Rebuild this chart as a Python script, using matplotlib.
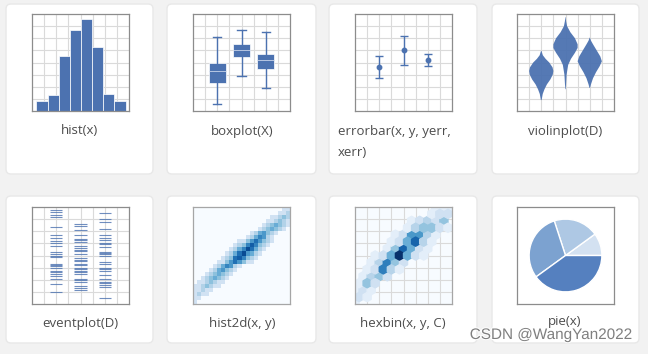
import numpy as np
import matplotlib
matplotlib.use("Agg")
import matplotlib.pyplot as plt
from matplotlib.patches import FancyBboxPatch
from matplotlib.colors import PowerNorm
import matplotlib.patheffects as pe

W, H = 648, 354
BLUE = "#4C72B0"

# hist(x)
hist_edges = [0.36, 1.28, 2.20, 3.12, 4.04, 4.96, 5.88, 6.80, 7.72]
hist_counts = [6, 9, 32, 47, 53, 37, 10, 6]

# boxplot(X)
box_pos = [2, 4, 6]
box_whislo = [0.55, 2.88, 1.92]
box_q1 = [2.31, 4.45, 3.49]
box_med = [3.27, 5.05, 4.18]
box_q3 = [3.96, 5.55, 4.73]
box_whishi = [6.10, 6.68, 6.48]

# errorbar(x, y, yerr, xerr)
err_x = [2, 4, 6]
err_y = [3.6, 5.0, 4.2]
err_yerr = [0.9, 1.2, 0.5]

# violinplot(D): density profiles
violin_pos = [2, 4, 6]
violin_y = [
    [0.9, 1.4, 1.8, 2.2, 2.6, 3.0, 3.3, 3.6, 4.0, 4.3, 4.6, 4.95],
    [1.8, 3.0, 3.8, 4.3, 4.8, 5.2, 5.5, 6.0, 6.5, 7.0, 7.4, 7.75],
    [1.9, 2.2, 2.7, 3.2, 3.7, 4.1, 4.5, 5.0, 5.5, 5.8, 6.05],
]
violin_w = [
    [0.03, 0.12, 0.27, 0.47, 0.75, 0.95, 1.0, 0.93, 0.66, 0.36, 0.13, 0.02],
    [0.02, 0.09, 0.22, 0.45, 0.78, 1.0, 1.0, 0.78, 0.4, 0.13, 0.05, 0.01],
    [0.02, 0.1, 0.27, 0.52, 0.82, 1.0, 0.87, 0.57, 0.27, 0.1, 0.01],
]

# eventplot(D)
event_pos = [2, 4, 6]
events = [
    [7.78, 7.59, 7.37, 7.18, 6.33, 5.67, 5.48, 5.23, 4.99, 4.79, 4.30, 4.16,
     4.00, 3.84, 3.34, 3.23, 3.12, 3.01, 2.74, 2.63, 2.49, 2.30, 2.08, 1.64, 0.99],
    [6.58, 6.41, 6.08, 5.67, 5.37, 5.26, 5.10, 4.77, 4.63, 4.49, 4.36, 4.16,
     3.78, 3.67, 3.53, 3.34, 3.18, 3.01, 2.85, 2.74, 2.60, 2.44, 2.08, 1.97,
     1.84, 1.48, 1.32, 1.15],
    [7.53, 7.04, 6.77, 6.19, 5.67, 5.48, 5.26, 5.04, 4.93, 4.71, 4.30, 4.22,
     4.11, 3.95, 3.48, 3.34, 3.01, 2.85, 2.71, 2.38, 2.03, 1.84, 1.70, 1.59,
     1.42, 0.52],
]

# hist2d(x, y): 24x24 counts, top row first
hist2d_rows = [
    "000000000000000000000011",
    "000000000000000000000112",
    "000000000000000000011232",
    "000000000000000000112321",
    "000000000000000001234321",
    "000000000000000012343210",
    "000000000000001245321000",
    "000000000000012465210000",
    "000000000001135753210000",
    "000000000012368632100000",
    "000000000124697421000000",
    "000000001247954210000000",
    "000000012378632100000000",
    "000000113575311000000000",
    "000001246521000000000000",
    "000012453210000000000000",
    "000123432100000000000000",
    "001234321000000000000000",
    "011232110000000000000000",
    "112321100000000000000000",
    "112110000000000000000000",
    "121100000000000000000000",
    "110000000000000000000000",
    "100000000000000000000000",
]

# hexbin(x, y, C): hexagon row / column and value
hex_row = [0, 1, 1, 2, 2, 2, 3, 3, 3,
           4, 4, 4, 4, 5, 5, 5, 5, 5,
           6, 6, 6, 6, 6, 7, 7, 7, 7, 7, 7, 7,
           8, 8, 8, 8, 8, 8, 9, 9, 9, 9, 9, 9,
           10, 10, 10, 10, 10, 10, 11, 11, 11, 11, 11, 11,
           12, 12, 12, 12, 12, 13, 13, 13, 14, 14, 14]
hex_col = [0, 0, 1, 0, 1, 2, 0, 1, 2,
           1, 2, 3, 4, 1, 2, 3, 4, 5,
           2, 3, 4, 5, 6, 2, 3, 4, 5, 6, 7, 8,
           4, 5, 6, 7, 8, 9, 4, 5, 6, 7, 8, 9,
           5, 6, 7, 8, 9, 10, 6, 7, 8, 9, 10, 11,
           7, 8, 9, 10, 11, 9, 10, 11, 10, 11, 12]
hex_val = [1, 2, 1, 1, 2, 1, 1, 4, 2,
           1, 3, 4, 2, 1, 2, 7, 3, 1,
           1, 3, 7, 4, 2, 1, 2, 5, 10, 5, 2, 1,
           1, 4, 8, 5, 2, 1, 1, 2, 5, 8, 3, 1,
           1, 2, 6, 6, 3, 1, 1, 3, 4, 4, 2, 1,
           1, 2, 3, 2, 4, 1, 2, 2, 1, 1, 1]

# pie(x)
pie_x = [1, 2, 3, 4]
pie_colors = ["#d3e1f1", "#aec8e4", "#7ca2d0", "#5580bf"]

# layout (pixels)
card_cols = [(6, 153), (167, 316), (329, 477), (492, 639)]
card_rows = [(4, 174), (196, 343)]
ax_cols = [(32, 129), (193, 290), (355, 452), (517, 614)]
ax_rows = [(14, 111), (207, 304)]

fig = plt.figure(figsize=(W / 100, H / 100), dpi=100, facecolor="#f2f2f2")

bg = fig.add_axes([0, 0, 1, 1], zorder=0)
bg.set_xlim(0, W)
bg.set_ylim(H, 0)
bg.axis("off")
for (y0, y1) in card_rows:
    for (x0, x1) in card_cols:
        bg.add_patch(FancyBboxPatch((x0, y0), x1 - x0, y1 - y0,
                                    boxstyle="round,pad=0,rounding_size=5",
                                    facecolor="white", edgecolor="#e8e8e8", linewidth=1))


def thumb(col, row, grid=True, spine="#8c8c8c"):
    (x0, x1), (y0, y1) = ax_cols[col], ax_rows[row]
    ax = fig.add_axes([x0 / W, 1 - y1 / H, (x1 - x0) / W, (y1 - y0) / H], zorder=1)
    ax.set(xlim=(0, 8), ylim=(0, 8), xticks=range(1, 8), yticks=range(1, 8))
    ax.tick_params(length=0, labelbottom=False, labelleft=False)
    ax.grid(grid, color="#dadada", linewidth=0.8)
    ax.set_axisbelow(True)
    for s in ax.spines.values():
        s.set_color(spine)
        s.set_linewidth(0.9)
    return ax


# hist
ax = thumb(0, 0)
ax.bar(hist_edges[:-1], hist_counts, width=np.diff(hist_edges), align="edge",
       color=BLUE, edgecolor="white", linewidth=0.5)
ax.set(ylim=(0, 56), yticks=range(7, 56, 7))

# boxplot
ax = thumb(1, 0)
stats = [dict(whislo=a, q1=b, med=c, q3=d, whishi=e, fliers=[])
         for a, b, c, d, e in zip(box_whislo, box_q1, box_med, box_q3, box_whishi)]
ax.bxp(stats, positions=box_pos, widths=1.4, patch_artist=True, showfliers=False,
       medianprops={"color": "#c8d4ea", "linewidth": 0.6},
       boxprops={"facecolor": BLUE, "edgecolor": "white", "linewidth": 0.5},
       whiskerprops={"color": BLUE, "linewidth": 1.0},
       capprops={"color": BLUE, "linewidth": 1.0})
ax.set(xlim=(0, 8), ylim=(0, 8), xticks=range(1, 8), yticks=range(1, 8))
ax.tick_params(length=0, labelbottom=False, labelleft=False)

# errorbar
ax = thumb(2, 0)
ax.errorbar(err_x, err_y, err_yerr, fmt="o", color=BLUE, markersize=3.2,
            linewidth=1.0, capsize=3, capthick=1.0)

# violin
ax = thumb(3, 0)
vstats = [dict(coords=np.array(yy), vals=np.array(ww), mean=np.mean(yy), median=np.median(yy),
               min=min(yy), max=max(yy)) for yy, ww in zip(violin_y, violin_w)]
vp = ax.violin(vstats, positions=violin_pos, widths=2, showmeans=False,
               showextrema=False, showmedians=False)
for body in vp["bodies"]:
    body.set_facecolor(BLUE)
    body.set_edgecolor("none")
    body.set_alpha(0.95)

# eventplot
ax = thumb(0, 1)
ax.eventplot(events, orientation="vertical", lineoffsets=event_pos,
             linewidth=0.8, colors=BLUE, alpha=0.8)

# hist2d
ax = thumb(1, 1, grid=False, spine="#a6a6a6")
grid = np.array([[int(c) for c in r] for r in hist2d_rows[::-1]])
centers = (np.arange(grid.shape[1]) + 0.5) * 8 / grid.shape[1]
gx, gy = np.meshgrid(centers, centers)
ax.hist2d(gx.ravel(), gy.ravel(), bins=grid.shape[1], range=[[0, 8], [0, 8]],
          weights=grid.ravel(), cmap="Blues", norm=PowerNorm(0.7, vmin=0, vmax=10.5))

# hexbin
ax = thumb(2, 1, grid=False, spine="#a6a6a6")
ax.set_facecolor(plt.get_cmap("Blues")(0.0))
hx = [(c + 0.5 * (r % 2)) * 8 / 12 for r, c in zip(hex_row, hex_col)]
hy = [r * 8 / 14 for r in hex_row]
ax.hexbin(hx, hy, C=hex_val, gridsize=(12, 7), extent=(0, 8, 0, 8), cmap="Blues",
          vmin=0, vmax=10, reduce_C_function=np.max)
ax.set(xlim=(0, 8), ylim=(0, 8))

# pie
ax = thumb(3, 1, grid=False, spine="#8c8c8c")
ax.pie(pie_x, colors=pie_colors, radius=3, center=(4, 4),
       wedgeprops={"linewidth": 1, "edgecolor": "white"}, frame=True)
ax.set(xlim=(0, 8), ylim=(0, 8), xticks=[], yticks=[])

# labels
lab = dict(fontsize=9.5, color="#4d4d4d", family="Open Sans", va="center")
bg.text(80, 131, "hist(x)", ha="center", **lab)
bg.text(242, 131, "boxplot(X)", ha="center", **lab)
bg.text(338, 131, "errorbar(x, y, yerr,", ha="left", **lab)
bg.text(338, 153, "xerr)", ha="left", **lab)
bg.text(565, 131, "violinplot(D)", ha="center", **lab)
bg.text(80, 324, "eventplot(D)", ha="center", **lab)
bg.text(242, 324, "hist2d(x, y)", ha="center", **lab)
bg.text(403, 324, "hexbin(x, y, C)", ha="center", **lab)
bg.text(565, 322, "pie(x)", ha="center", **lab)

fig.text(632 / W, 1 - 335 / H, "CSDN @WangYan2022", ha="right", va="center",
         fontsize=11, color="#7f7f7f", family="Liberation Sans", zorder=5,
         path_effects=[pe.withStroke(linewidth=1.5, foreground="white")])

fig.savefig("out.png", dpi=100, facecolor=fig.get_facecolor())
